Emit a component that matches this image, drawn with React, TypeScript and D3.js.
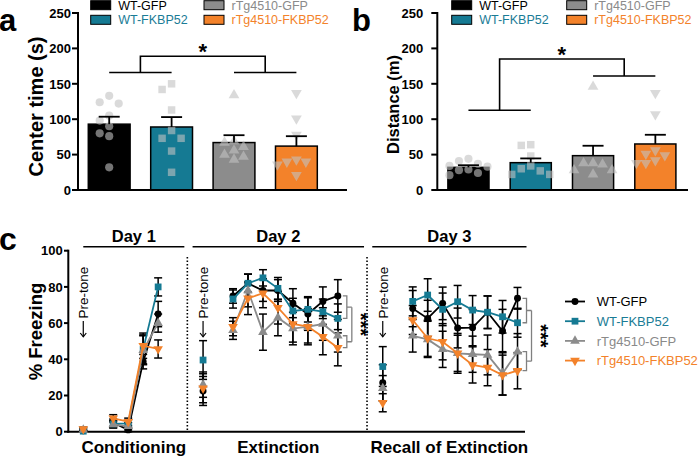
import React from "react";
import * as d3 from "d3";

// ---------- shared ----------
const groups = ["WT-GFP", "WT-FKBP52", "rTg4510-GFP", "rTg4510-FKBP52"];
const seriesColor = ["#000000", "#157a93", "#8c8c8c", "#f3822a"];
const legendTextColor = ["#000000", "#1a7c96", "#8a8a8a", "#f3822a"];

// ---------- panel a: center time (s) ----------
const centerTimeMean = [93, 89, 67, 62];
const centerTimeSem = [10.5, 14, 10.4, 14];
const centerTimePoints = [
  [133, 124, 122, 105, 98, 90, 80, 76, 32],
  [150, 142, 113, 84, 73, 73, 55, 25],
  [134, 69, 67, 61, 56, 50, 47, 43],
  [137, 101, 78, 43, 40, 40, 36, 21],
];
const centerTimeSigLower = [166, 166];
const centerTimeSigUpper = 189;

// ---------- panel b: distance (m) ----------
const distanceMean = [32, 38.6, 48.5, 65];
const distanceSem = [3, 6, 14, 13];
const distancePoints = [
  [44, 41, 37, 34, 33, 29, 28, 24, 21],
  [64, 63, 48, 34, 30, 27, 22, 22],
  [146, 38, 38, 36, 28, 28, 22],
  [137, 107, 56, 51, 49, 42, 38, 38],
];
const distanceSigLower = [112.6, 161];
const distanceSigUpper = 185;

const barTicks = [0, 50, 100, 150, 200, 250];

// ---------- panel c: % freezing ----------
const freezeTicks = [0, 20, 40, 60, 80, 100];
const days = ["Day 1", "Day 2", "Day 3"];
const phases = ["Conditioning", "Extinction", "Recall of Extinction"];
// pre-tone value per series for each day
const preTone = [
  [0.5, 22.5, 27],
  [0.3, 39.6, 36],
  [1, 26, 24],
  [1.5, 24, 16],
];
const preToneSem = [
  [0.5, 8, 10],
  [0.3, 10.7, 11],
  [0.8, 7, 7],
  [1, 8, 5],
];
const conditioning = [
  [5, 1, 38.7, 65],
  [4.3, 4.6, 45.5, 80],
  [4, 3, 45, 60],
  [7.4, 5.5, 47.5, 45.7],
];
const conditioningSem = [
  [2, 1, 4, 7],
  [2, 2, 8, 5],
  [2, 2, 8, 5],
  [2, 2, 7, 5],
];
const extinction = [
  [75, 82, 78, 78, 71, 65, 72, 75],
  [73.3, 82, 85, 79.2, 66.7, 67.6, 66.3, 62.6],
  [56, 78, 55, 63, 57, 58, 59.5, 53],
  [58, 73.7, 76.5, 68.5, 59.5, 58, 52.5, 46.4],
];
const extinctionSem = [
  [4, 5, 6, 6, 8, 9, 8, 9],
  [5, 5, 4.5, 6, 7, 7, 7, 8],
  [5, 9, 10, 10, 9, 9, 9, 9],
  [5, 9, 8, 9, 10, 10, 10, 10],
];
const recall = [
  [68, 62.6, 70.9, 57.3, 57.5, 66, 55.6, 73.7],
  [72, 75.5, 67.6, 71.8, 67.2, 66, 63.5, 60.2],
  [53, 51, 45.5, 43.3, 42.8, 42.4, 32.2, 44.2],
  [61.7, 51.6, 49.7, 43.3, 36.9, 35.4, 31.3, 33.7],
];
const recallSem = [
  [10, 10, 9, 11, 10, 9, 12, 6],
  [8, 9, 9, 9, 8, 9, 9, 8],
  [9, 10, 10, 11, 10, 11, 12, 10],
  [8, 10, 10, 10, 10, 10, 11, 10],
];

const FONT = "'Liberation Sans', Arial, Helvetica, sans-serif";

const symbolTypes = [d3.symbolCircle, d3.symbolSquare, d3.symbolTriangle, d3.symbolTriangle];
const symbolRot = [0, 0, 0, 180];

function swarm(values: number[], y: (v: number) => number, cx: number, step: number, minDist: number) {
  const placed: { x: number; y: number }[] = [];
  values.forEach((v) => {
    const py = y(v);
    for (let k = 0; k < 20; k++) {
      const off = k === 0 ? 0 : (k % 2 === 1 ? -1 : 1) * Math.ceil(k / 2) * step;
      const px = cx + off;
      if (placed.every((p) => Math.hypot(p.x - px, p.y - py) >= minDist)) {
        placed.push({ x: px, y: py });
        break;
      }
    }
  });
  return placed;
}

function BarPanel(props: any) {
  const { x, y, axisX, axisEnd, means, sems, points, sigLower, sigUpper, label, labelX, ylabel, ylabelX, ylabelY, ylabelSize, legendX, tickGap } = props;
  const bw = x.bandwidth();
  const cx = (g: string) => (x(g) as number) + bw / 2;
  const baseY = y(0);
  const mid1 = (cx(groups[0]) + cx(groups[1])) / 2;
  const mid2 = (cx(groups[2]) + cx(groups[3])) / 2;
  const sym = d3.symbol();
  return (
    <g>
      <text x={labelX} y={31} fontSize={31} fontWeight="bold" fontFamily={FONT}>{label}</text>
      {/* legend */}
      {groups.map((g, i) => {
        const col = Math.floor(i / 2);
        const row = i % 2;
        const cy = 5.2 + row * 14.6;
        return (
          <g key={g}>
            <rect x={legendX[col]} y={cy - 4.5} width={20} height={9} fill={seriesColor[i]} stroke="#000" strokeWidth={1} />
            <text x={legendX[col] + 27.5} y={cy + 4.6} fontSize={12.5} fontFamily={FONT} fill={legendTextColor[i]}>{g}</text>
          </g>
        );
      })}
      {/* y label */}
      <text transform={`translate(${ylabelX},${ylabelY}) rotate(-90)`} textAnchor="middle" fontSize={ylabelSize} fontWeight="bold" fontFamily={FONT}>{ylabel}</text>
      {/* bars */}
      {groups.map((g, i) => (
        <rect key={g} x={x(g)} y={y(means[i])} width={bw} height={baseY - y(means[i])} fill={seriesColor[i]} stroke="#000" strokeWidth={1.5} />
      ))}
      {/* points */}
      {groups.map((g, i) =>
        swarm(points[i], y, cx(g), 9.5, 8.5).map((p, j) => (
          <path key={g + j} transform={`translate(${p.x},${p.y}) rotate(${symbolRot[i]})`} d={sym.type(symbolTypes[i]).size(i === 0 ? 52 : i === 1 ? 56 : 50)() as string} fill="rgb(193,193,193)" fillOpacity={0.6} />
        ))
      )}
      {/* error bars */}
      {groups.map((g, i) => {
        const c = cx(g);
        const t = y(means[i] + sems[i]);
        return (
          <g key={g} stroke="#000" strokeWidth={1.8}>
            <line x1={c} x2={c} y1={y(means[i])} y2={t} />
            <line x1={c - 10.5} x2={c + 10.5} y1={t} y2={t} />
          </g>
        );
      })}
      {/* axes */}
      <line x1={axisX} x2={axisX} y1={y(250) - 1} y2={baseY + 1} stroke="#000" strokeWidth={2} />
      <line x1={axisX - 1} x2={axisEnd} y1={baseY} y2={baseY} stroke="#000" strokeWidth={2} />
      {barTicks.map((t) => (
        <g key={t}>
          <line x1={axisX - 6} x2={axisX} y1={y(t)} y2={y(t)} stroke="#000" strokeWidth={2} />
          <text x={axisX - tickGap} y={y(t) + 4.7} textAnchor="end" fontSize={13} fontWeight="bold" fontFamily={FONT}>{t}</text>
        </g>
      ))}
      {/* significance */}
      <g stroke="#000" strokeWidth={1.6} fill="none">
        <line x1={cx(groups[0])} x2={cx(groups[1])} y1={y(sigLower[0])} y2={y(sigLower[0])} />
        <line x1={cx(groups[2])} x2={cx(groups[3])} y1={y(sigLower[1])} y2={y(sigLower[1])} />
        <path d={`M${mid1},${y(sigLower[0])}V${y(sigUpper)}H${mid2}V${y(sigLower[1])}`} />
      </g>
      <text x={(mid1 + mid2) / 2} y={y(sigUpper) + 3} textAnchor="middle" fontSize={22} fontWeight="bold" fontFamily={FONT}>*</text>
    </g>
  );
}

export default function App() {
  const yA = d3.scaleLinear().domain([0, 250]).range([190, 13]);
  const xA = d3.scaleBand<string>().domain(groups).range([78, 327.6]).paddingInner(0.33).paddingOuter(0.165);
  const xB = d3.scaleBand<string>().domain(groups).range([437.3, 686.5]).paddingInner(0.34).paddingOuter(0.17);

  // panel c scales
  const yC = d3.scaleLinear().domain([0, 100]).range([431.7, 250.7]);
  const xC = d3.scaleLinear().domain([-1, 29.5]).range([68.3, 525]);
  const phaseData = [conditioning, extinction, recall];
  const phaseSem = [conditioningSem, extinctionSem, recallSem];
  const nTrials = phaseData.map((p) => p[0].length);
  const starts: number[] = [];
  nTrials.forEach((n, p) => starts.push(p === 0 ? 0 : starts[p - 1] + nTrials[p - 1] + 4));
  const trialX = (p: number, i: number) => xC(starts[p] + 2 + i);
  const preX = (p: number) => xC(starts[p]);
  const headerL = (p: number) => (p === 0 ? xC(starts[p]) : xC(starts[p] - 0.7));
  const headerR = (p: number) => Math.min(xC(starts[p] + nTrials[p] + 2.75), xC(29.6));
  const sym = d3.symbol();
  const markerSize = [38, 46, 40, 40];
  const lineGen = d3.line<[number, number]>();

  const errorBar = (xx: number, v: number, s: number, key: string) => (
    <g key={key} stroke="#000" strokeWidth={1.5}>
      <line x1={xx} x2={xx} y1={yC(v + s)} y2={yC(Math.max(0, v - s))} />
      <line x1={xx - 4} x2={xx + 4} y1={yC(v + s)} y2={yC(v + s)} />
      <line x1={xx - 4} x2={xx + 4} y1={yC(Math.max(0, v - s))} y2={yC(Math.max(0, v - s))} />
    </g>
  );
  const marker = (xx: number, v: number, i: number, key: string) => (
    <path key={key} transform={`translate(${xx},${yC(v)}) rotate(${symbolRot[i]})`} d={sym.type(symbolTypes[i]).size(markerSize[i])() as string} fill={seriesColor[i]} />
  );

  const bracket = (p: number, data: number[][]) => {
    const last = nTrials[p] - 1;
    const xl = trialX(p, last);
    const bx = xl + 9;
    const cx2 = bx + 5;
    const pairs = [
      [data[0][last], data[1][last]],
      [data[2][last], data[3][last]],
    ];
    const mids: number[] = [];
    const segs = pairs.map(([a, b], k) => {
      const ya = yC(Math.max(a, b));
      const yb = yC(Math.min(a, b));
      mids.push((ya + yb) / 2);
      return <path key={k} d={`M${bx - 4},${ya}H${bx}V${yb}H${bx - 4}M${bx},${(ya + yb) / 2}H${cx2}`} />;
    });
    const my = (mids[0] + mids[1]) / 2;
    return (
      <g key={"br" + p}>
        <g stroke="#808080" strokeWidth={1.3} fill="none">
          {segs}
          <line x1={cx2} x2={cx2} y1={mids[0]} y2={mids[1]} />
        </g>
        <text transform={`translate(${cx2 + 2},${my}) rotate(90)`} textAnchor="middle" fontSize={20} fontWeight="bold" fontFamily={FONT}>***</text>
      </g>
    );
  };

  return (
    <svg width={700} height={457} style={{ position: "absolute", left: 0, top: 0, background: "#fff" }}>
      <BarPanel x={xA} y={yA} axisX={78} axisEnd={347} means={centerTimeMean} sems={centerTimeSem} points={centerTimePoints}
        sigLower={centerTimeSigLower} sigUpper={centerTimeSigUpper} label="a" labelX={-1} ylabel="Center time (s)" ylabelX={43} ylabelY={106.5} ylabelSize={20}
        legendX={[90.7, 204]} tickGap={7} />
      <BarPanel x={xB} y={yA} axisX={437.3} axisEnd={688} means={distanceMean} sems={distanceSem} points={distancePoints}
        sigLower={distanceSigLower} sigUpper={distanceSigUpper} label="b" labelX={352} ylabel="Distance (m)" ylabelX={399} ylabelY={104.5} ylabelSize={16.5}
        legendX={[451.7, 566.7]} tickGap={14} />

      {/* panel c */}
      <text x={-1} y={250} fontSize={32} fontWeight="bold" fontFamily={FONT}>c</text>
      <text transform={`translate(41.5,331.5) rotate(-90)`} textAnchor="middle" fontSize={18.5} fontWeight="bold" fontFamily={FONT}>% Freezing</text>
      {/* day headers */}
      {days.map((d, p) => (
        <g key={d}>
          <line x1={headerL(p)} x2={headerR(p)} y1={246.7} y2={246.7} stroke="#000" strokeWidth={1.5} />
          <text x={(headerL(p) + headerR(p)) / 2} y={242} textAnchor="middle" fontSize={16.5} fontWeight="bold" fontFamily={FONT}>{d}</text>
          <text x={(headerL(p) + headerR(p)) / 2} y={452.5} textAnchor="middle" fontSize={17} fontWeight="bold" fontFamily={FONT}>{phases[p]}</text>
          {p > 0 && (
            <line x1={xC(starts[p] - 1.05)} x2={xC(starts[p] - 1.05)} y1={257} y2={431} stroke="#000" strokeWidth={1.6} strokeDasharray="1.5,2" />
          )}
          <text transform={`translate(${preX(p) + 5},318.5) rotate(-90)`} fontSize={13.5} fontFamily={FONT}>Pre-tone</text>
          <g stroke="#000" strokeWidth={1.2} fill="none">
            <line x1={preX(p)} x2={preX(p)} y1={321} y2={336.5} />
            <path d={`M${preX(p) - 3},${333}L${preX(p)},${336.8}L${preX(p) + 3},${333}`} />
          </g>
        </g>
      ))}
      {/* axes */}
      <line x1={68.3} x2={68.3} y1={249.7} y2={432.7} stroke="#000" strokeWidth={2} />
      <line x1={67.3} x2={525} y1={431.7} y2={431.7} stroke="#000" strokeWidth={2} />
      {freezeTicks.map((t) => (
        <g key={t}>
          <line x1={64} x2={68.3} y1={yC(t)} y2={yC(t)} stroke="#000" strokeWidth={2} />
          <text x={62.8} y={yC(t) + 4.7} textAnchor="end" fontSize={13} fontWeight="bold" fontFamily={FONT}>{t}</text>
        </g>
      ))}
      {/* error bars */}
      {groups.map((g, i) =>
        phaseData.map((pd, p) => (
          <g key={g + p}>
            {errorBar(preX(p), preTone[i][p], preToneSem[i][p], "pe")}
            {pd[i].map((v, k) => errorBar(trialX(p, k), v, phaseSem[p][i][k], "e" + k))}
          </g>
        ))
      )}
      {/* lines and markers */}
      {groups.map((g, i) =>
        phaseData.map((pd, p) => (
          <g key={g + p}>
            <path d={lineGen(pd[i].map((v, k) => [trialX(p, k), yC(v)])) as string} fill="none" stroke={seriesColor[i]} strokeWidth={1.8} />
            {marker(preX(p), preTone[i][p], i, "pm")}
            {pd[i].map((v, k) => marker(trialX(p, k), v, i, "m" + k))}
          </g>
        ))
      )}
      {bracket(1, extinction)}
      {bracket(2, recall)}
      {/* legend c */}
      {groups.map((g, i) => {
        const cy = 301.5 + i * 19.7;
        return (
          <g key={g}>
            <line x1={565} x2={585} y1={cy} y2={cy} stroke={seriesColor[i]} strokeWidth={1.8} />
            {marker(575, yC.invert(cy), i, "lm")}
            <text x={596.7} y={cy + 4.6} fontSize={13} fontFamily={FONT} fill={legendTextColor[i]}>{g}</text>
          </g>
        );
      })}
    </svg>
  );
}
